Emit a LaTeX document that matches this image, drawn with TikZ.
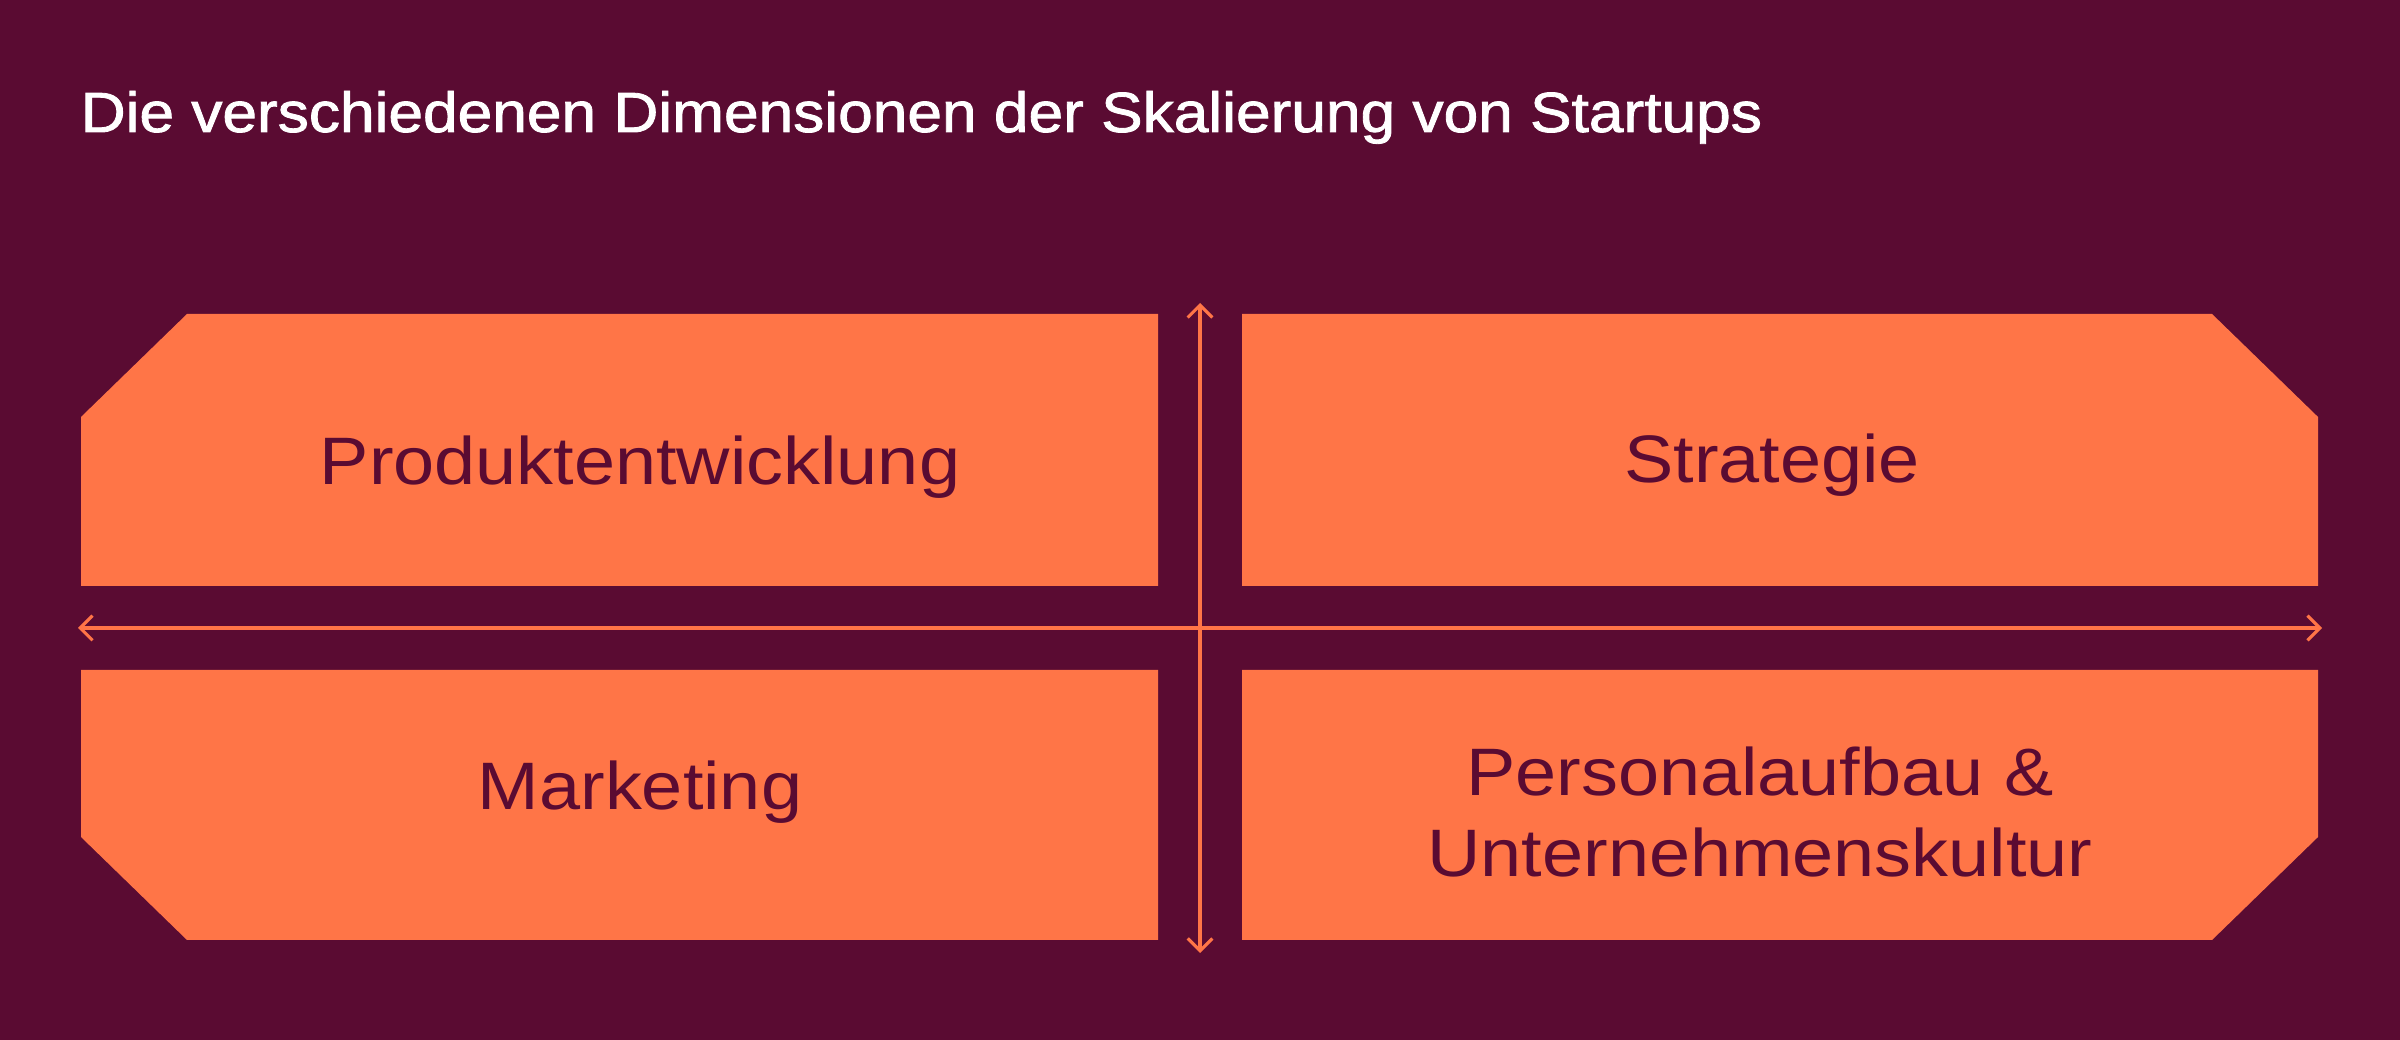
\documentclass[tikz,border=0pt]{standalone}
\usepackage{fontspec}
\setmainfont{Liberation Sans}[FakeStretch=1.1]
\newfontfamily\titlefont{Liberation Sans}[FakeStretch=1.1,FakeBold=1.5]
\usetikzlibrary{arrows.meta}
\definecolor{wine}{RGB}{90,11,50}
\definecolor{coral}{RGB}{255,117,71}

\begin{document}
\begin{tikzpicture}[
    tile/.style={fill=coral},
    dimlabel/.style={text=wine,font=\fontsize{19.1}{23.3}\selectfont,inner sep=0,anchor=base,align=center},
    axis/.style={coral,line width=0.9pt,{Straight Barb[length=3.5pt,width=7pt]}-{Straight Barb[length=3.5pt,width=7pt]}}]
        \fill[wine](0,0) rectangle (24,10.4);
        \node[white,font=\titlefont\fontsize{16.1}{19}\selectfont,inner sep=0,anchor=base west] (title) at (0.80,9.08) {Die verschiedenen Dimensionen der Skalierung von Startups};
        \fill[tile](1.87,7.26)--(11.58,7.26)--(11.58,4.54)--(0.81,4.54)--(0.81,6.23)--cycle;
        \fill[tile](12.42,7.26)--(22.12,7.26)--(23.18,6.23)--(23.18,4.54)--(12.42,4.54)--cycle;
        \fill[tile](0.81,3.70)--(11.58,3.70)--(11.58,1.00)--(1.87,1.00)--(0.81,2.03)--cycle;
        \fill[tile](12.42,3.70)--(23.18,3.70)--(23.18,2.03)--(22.12,1.00)--(12.42,1.00)--cycle;
        \node[dimlabel] (prod) at (6.40,5.55) {Produktentwicklung};
        \node[dimlabel] (strat) at (17.72,5.57) {Strategie};
        \node[dimlabel] (mark) at (6.40,2.30) {Marketing};
        \node[dimlabel] (pers) at (17.60,1.63) {Personalaufbau \&\\Unternehmenskultur};
        \coordinate (west) at (0.78,4.12);
        \coordinate (east) at (23.22,4.12);
        \coordinate (north) at (12.00,7.37);
        \coordinate (south) at (12.00,0.87);
        \draw[axis](west)--(east);
        \draw[axis](north)--(south);
\end{tikzpicture}
\end{document}
